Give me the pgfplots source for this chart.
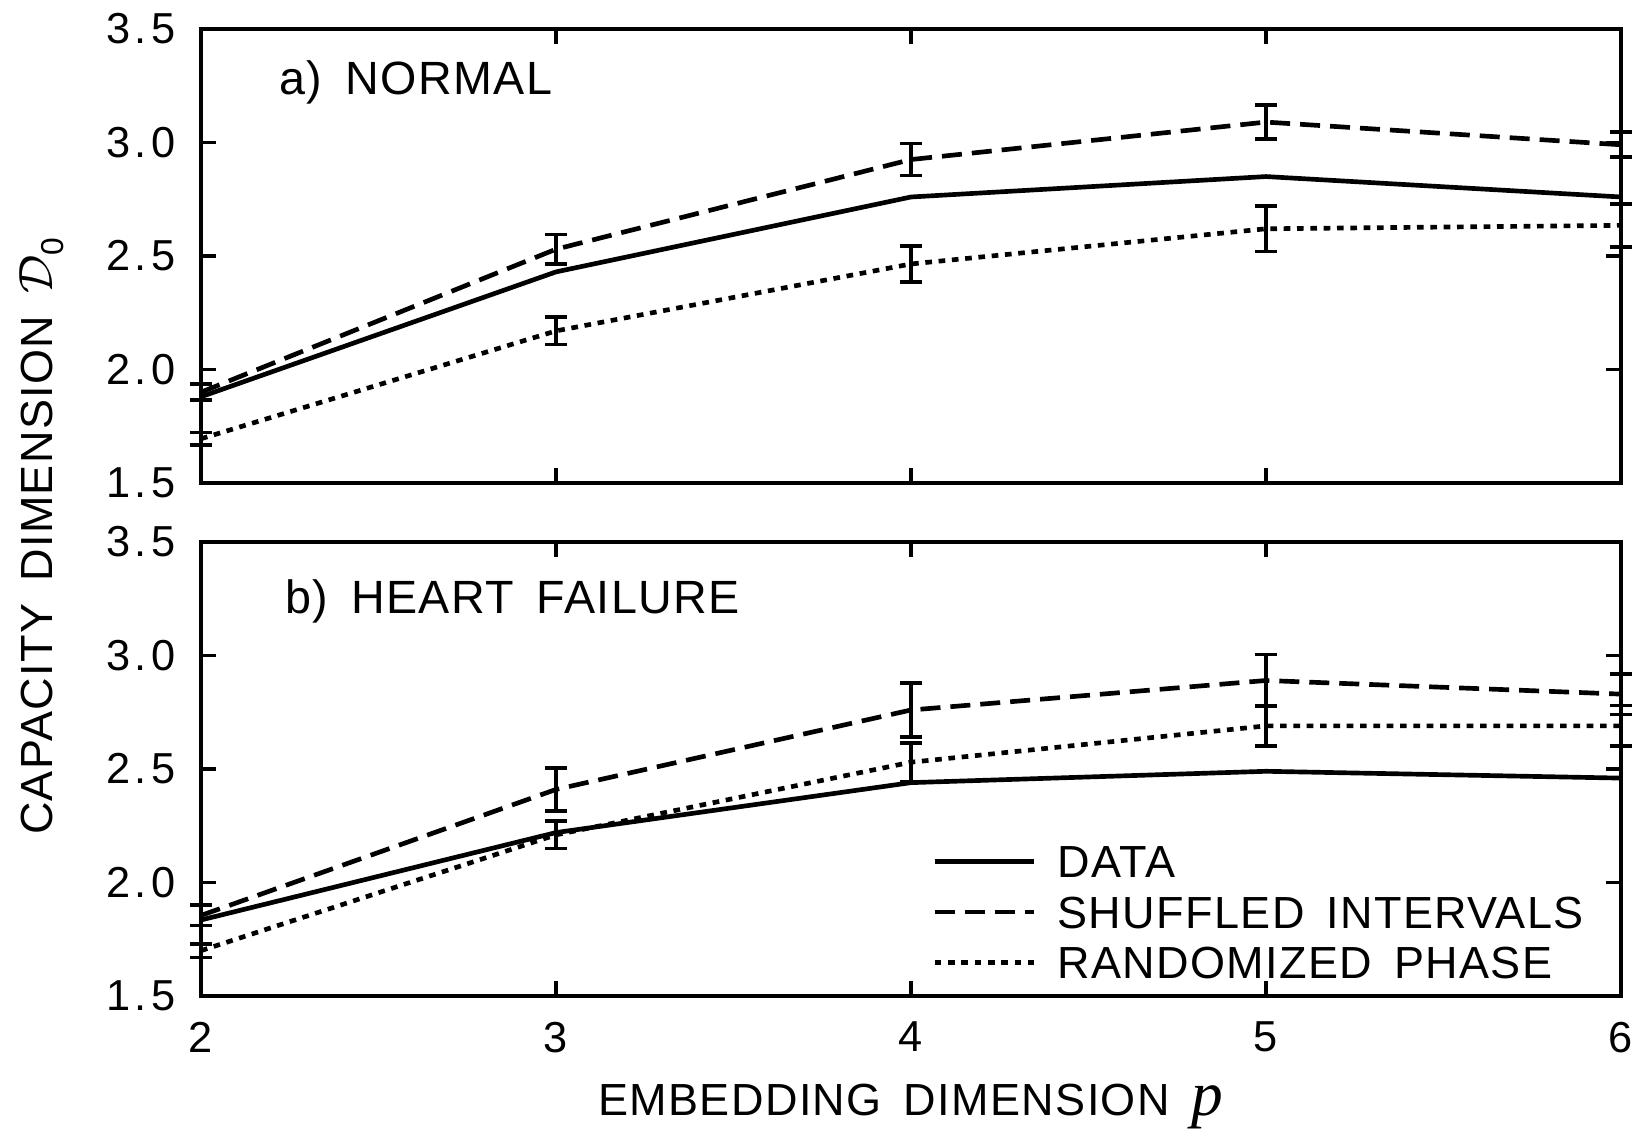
\documentclass[border=0pt]{standalone}
\usepackage{fontspec}
\usepackage{pgfplots}
\pgfplotsset{compat=1.18}
\setmainfont{Liberation Sans}[WordSpace=1.6]
\newfontfamily\tickfont{Liberation Sans}[LetterSpace=11]
\newfontfamily\labfont{Liberation Sans}[LetterSpace=3,WordSpace=1.6]
\newfontfamily\seriffont{Liberation Serif}

\pgfplotsset{
  panel/.style={
    scale only axis, width=426pt, height=136.2pt,
    xmin=2, xmax=6, ymin=1.5, ymax=3.5,
    xtick={2,3,4,5,6}, ytick={1.5,2,2.5,3,3.5},
    tick align=inside, major tick length=4.5pt,
    axis line style={line width=1.3pt},
    every tick/.style={black, line width=1pt},
    tick label style={font=\tickfont\fontsize{13}{13}\selectfont},
    /pgf/number format/assume math mode=true,
    yticklabel={\pgfmathprintnumber[fixed,fixed zerofill,precision=1]{\tick}},
    yticklabel style={xshift=-4pt},
    xticklabel style={yshift=-4.3pt},
    clip=false,
  },
  errs/.style={
    error bars/.cd, y dir=both, y explicit,
    error bar style={solid, line width=1.1pt},
    error mark options={rotate=90, mark size=3.2pt, solid, line width=1.1pt},
  },
  dataline/.style={black, line width=1.4pt, mark=none},
  shufline/.style={black, line width=1.4pt, mark=none, dash pattern=on 6pt off 3pt},
  randline/.style={black, line width=1.4pt, mark=none, dash pattern=on 2pt off 2pt},
  legend image code/.code={\draw[#1] (0pt,0pt) -- (29.7pt,0pt);},
}

\begin{document}
\begin{tikzpicture}
% a) normal
\begin{axis}[panel, at={(0,0)}, anchor=south west, xticklabels={}]
\addplot[dataline] coordinates {(2,1.88) (3,2.43) (4,2.76) (5,2.85) (6,2.76)};
\addplot[shufline, errs] coordinates {
  (2,1.90) +- (0,0.035)
  (3,2.53) +- (0,0.065)
  (4,2.925) +- (0,0.07)
  (5,3.09) +- (0,0.075)
  (6,2.99) +- (0,0.055)
};
\addplot[randline, errs] coordinates {
  (2,1.695) +- (0,0.028)
  (3,2.17) +- (0,0.06)
  (4,2.465) +- (0,0.08)
  (5,2.62) +- (0,0.10)
  (6,2.635) +- (0,0.095)
};
\node[anchor=west, font=\labfont\fontsize{14}{14}\selectfont] at (rel axis cs:0.047,0.882) {a) NORMAL};
\end{axis}

% b) heart failure
\begin{axis}[panel, at={(0,-153.9pt)}, anchor=south west,
  legend style={at={(axis description cs:0.515,0.343)}, anchor=north west,
    draw=none, fill=none, inner sep=0pt, outer sep=0pt, row sep=2.5pt, column sep=5pt,
    font=\labfont\fontsize{13.5}{13.5}\selectfont,
    nodes={inner sep=1.5pt, text height=9.7pt, text depth=0pt}},
  legend cell align=left]
\addplot[dataline] coordinates {(2,1.835) (3,2.22) (4,2.44) (5,2.49) (6,2.46)};
\addlegendentry{DATA}
\addplot[shufline, errs] coordinates {
  (2,1.855) +- (0,0.045)
  (3,2.41) +- (0,0.095)
  (4,2.76) +- (0,0.12)
  (5,2.89) +- (0,0.115)
  (6,2.83) +- (0,0.09)
};
\addlegendentry{SHUFFLED INTERVALS}
\addplot[randline, errs] coordinates {
  (2,1.70) +- (0,0.03)
  (3,2.21) +- (0,0.06)
  (4,2.53) +- (0,0.085)
  (5,2.69) +- (0,0.09)
  (6,2.69) +- (0,0.09)
};
\addlegendentry{RANDOMIZED PHASE}
\node[anchor=west, font=\labfont\fontsize{14}{14}\selectfont] at (rel axis cs:0.051,0.869) {b) HEART FAILURE};
\end{axis}

% shared axis titles
\node[rotate=90, anchor=base, font=\labfont\fontsize{13.5}{13.5}\selectfont] at (-44.7pt,-16pt)
  {CAPACITY DIMENSION \(\mathcal{D}\)\raisebox{-3.5pt}{\fontsize{9.5}{9.5}\selectfont 0}};
\node[anchor=base, font=\labfont\fontsize{13.5}{13.5}\selectfont] at (213pt,-189.6pt)
  {EMBEDDING DIMENSION {\seriffont\itshape\fontsize{19}{19}\selectfont p}};

\pgfresetboundingbox
\path (-60.3pt,-193.5pt) rectangle (434.4pt,144.9pt);
\end{tikzpicture}
\end{document}
